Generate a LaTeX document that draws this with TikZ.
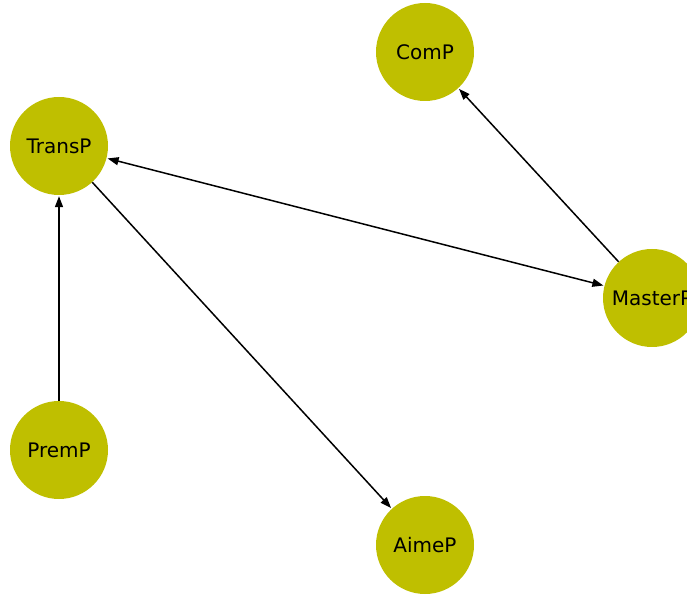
\documentclass[tikz,border=0pt]{standalone}
\usepackage{fontspec}
\setmainfont{DejaVu Sans}
\usetikzlibrary{arrows.meta}

\definecolor{nodeolive}{rgb}{0.75,0.75,0}

\tikzset{
  pnode/.style={circle,fill=nodeolive,minimum size=98pt,inner sep=0pt,
    font=\fontsize{20}{24}\selectfont},
  edge/.style={line width=1.5pt,-{Triangle[length=11pt,width=8pt]},shorten >=1pt}
}

\begin{document}
\begin{tikzpicture}[x=1pt,y=1pt]
\useasboundingbox (0,0) rectangle (687,594);
\clip (0,0) rectangle (687,594);

\node[pnode] (comp) at (425,542) {ComP};
\node[pnode] (transp) at (59,448) {TransP};
\node[pnode] (masterp) at (652,296) {MasterP};
\node[pnode] (premp) at (59,144) {PremP};
\node[pnode] (aimep) at (425,49) {AimeP};

\draw[edge] (masterp) -- (comp);
\draw[edge,{Triangle[length=11pt,width=8pt]}-{Triangle[length=11pt,width=8pt]},shorten <=1pt] (transp) -- (masterp);
\draw[edge] (transp) -- (aimep);
\draw[edge] (premp) -- (transp);
\end{tikzpicture}
\end{document}
